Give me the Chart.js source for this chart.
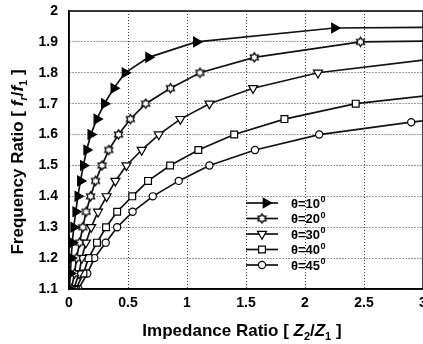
<!DOCTYPE html>
<html><head><meta charset="utf-8">
<script src="https://cdn.jsdelivr.net/npm/chart.js@4.4.1/dist/chart.umd.min.js"></script>
<style>html,body{margin:0;padding:0;background:#fff;overflow:hidden;}#wrap{width:423px;height:344px;}</style>
</head><body><div id="wrap"><canvas id="c" width="423" height="344"></canvas></div>
<script>
// ---- data ----
const seriesLabels = ['θ=10', 'θ=20', 'θ=30', 'θ=40', 'θ=45'];
const x10 = [0.003,0.012,0.018,0.028,0.04,0.057,0.075,0.097,0.122,0.15,0.185,0.236,0.30,0.38,0.475,0.675,1.08,2.25,3.5];
const y10 = [1.10,1.15,1.20,1.25,1.30,1.35,1.40,1.45,1.50,1.55,1.60,1.65,1.70,1.75,1.80,1.85,1.90,1.945,1.948];
const x20 = [0.02,0.047,0.064,0.09,0.117,0.145,0.183,0.225,0.28,0.337,0.42,0.52,0.65,0.86,1.11,1.57,2.47,3.6];
const y20 = [1.10,1.15,1.20,1.25,1.30,1.35,1.40,1.45,1.50,1.55,1.60,1.65,1.70,1.75,1.80,1.85,1.90,1.905];
const x30 = [0.04,0.085,0.108,0.143,0.188,0.246,0.319,0.393,0.487,0.616,0.761,0.944,1.19,1.56,2.11,3.3];
const y30 = [1.10,1.15,1.20,1.25,1.30,1.35,1.40,1.45,1.50,1.55,1.60,1.65,1.70,1.75,1.80,1.855];
const x40 = [0.058,0.122,0.165,0.237,0.314,0.408,0.536,0.67,0.857,1.096,1.40,1.826,2.43,3.6];
const y40 = [1.10,1.15,1.20,1.25,1.30,1.35,1.40,1.45,1.50,1.55,1.60,1.65,1.70,1.75];
const x45 = [0.08,0.155,0.215,0.311,0.408,0.539,0.71,0.93,1.19,1.576,2.12,2.9,3.2];
const y45 = [1.10,1.15,1.20,1.25,1.30,1.35,1.40,1.45,1.50,1.55,1.60,1.64,1.652];
const xTickValues = [0,0.5,1,1.5,2,2.5,3];
const yTickValues = [1.1,1.2,1.3,1.4,1.5,1.6,1.7,1.8,1.9,2.0];
const xTitleRuns = [{t:'Impedance Ratio [ '},{t:'Z',i:1},{t:'2',sub:1},{t:'/'},{t:'Z',i:1},{t:'1',sub:1},{t:' ]'}];
const yTitleRuns = [{t:'Frequency Ratio [ '},{t:'f',i:1},{t:'r',i:1,sub:1},{t:'/'},{t:'f',i:1},{t:'1',sub:1},{t:' ]'}];

const FAM = "'Liberation Sans', Arial, sans-serif";

function makeHexagram(r){
  const s = Math.ceil(r*2+3);
  const c = document.createElement('canvas'); c.width = s; c.height = s;
  const g = c.getContext('2d'); const cx = s/2, cy = s/2;
  g.beginPath();
  for (let k=0;k<12;k++){ const a = -Math.PI/2 + k*Math.PI/6; const rr = (k%2===0)? r : r/Math.sqrt(3)*1.05;
    g.lineTo(cx+rr*Math.cos(a), cy+rr*Math.sin(a)); }
  g.closePath(); g.fillStyle='#fff'; g.fill(); g.lineWidth=1.3; g.strokeStyle='#000'; g.stroke();
  return c;
}
const hexMark = makeHexagram(4.6);

const styles = [
  {pointStyle:'triangle', rot:90, r:5.5, bg:'#000'},
  {pointStyle:hexMark, rot:0, r:4.5, bg:'#fff'},
  {pointStyle:'triangle', rot:180, r:5.2, bg:'#fff'},
  {pointStyle:'rect', rot:0, r:4.8, bg:'#fff'},
  {pointStyle:'circle', rot:0, r:3.6, bg:'#fff'}
];
const xs = [x10,x20,x30,x40,x45], ys = [y10,y20,y30,y40,y45];

const datasets = seriesLabels.map((lab, k) => ({
  label: lab,
  data: xs[k].map((x,i)=>({x:x, y:ys[k][i]})),
  borderColor:'#111', borderWidth:1.7, tension:0, fill:false,
  pointStyle: styles[k].pointStyle, pointRadius: styles[k].r, pointRotation: styles[k].rot,
  pointBackgroundColor: styles[k].bg, pointBorderColor:'#000', pointBorderWidth:1.2
}));

function runFont(run, size){ return (run.i?'italic ':'')+'bold '+(run.sub? Math.round(size*0.65) : size)+'px '+FAM; }
function drawRuns(ctx, runs, size, cx, baseY){
  let w = 0;
  runs.forEach(r => { ctx.font = runFont(r,size); w += ctx.measureText(r.t).width; });
  let x = cx - w/2;
  ctx.textBaseline = 'alphabetic'; ctx.textAlign = 'left'; ctx.fillStyle = '#000';
  runs.forEach(r => { ctx.font = runFont(r,size); ctx.fillText(r.t, x, baseY + (r.sub? size*0.22 : 0)); x += ctx.measureText(r.t).width; });
}

function drawMarker(ctx, st, x, y){
  ctx.save();
  ctx.fillStyle = st.bg; ctx.strokeStyle = '#000'; ctx.lineWidth = 1.2;
  if (typeof st.pointStyle !== 'string'){ ctx.drawImage(st.pointStyle, x - st.pointStyle.width/2, y - st.pointStyle.height/2); ctx.restore(); return; }
  ctx.beginPath();
  const r = st.r, rad = st.rot*Math.PI/180;
  if (st.pointStyle === 'circle'){ ctx.arc(x,y,r,0,Math.PI*2); }
  else if (st.pointStyle === 'rect'){ const s = r*Math.SQRT1_2; ctx.rect(x-s,y-s,2*s,2*s); }
  else { for (let j=0;j<3;j++){ const a = rad + j*2*Math.PI/3; const px = x+Math.sin(a)*r, py = y-Math.cos(a)*r; j? ctx.lineTo(px,py) : ctx.moveTo(px,py);} ctx.closePath(); }
  ctx.fill(); ctx.stroke(); ctx.restore();
}

const decorPlugin = {
  id:'decor',
  afterDraw(chart){
    const ctx = chart.ctx, a = chart.chartArea;
    ctx.save();
    // frame
    ctx.strokeStyle = '#000'; ctx.lineWidth = 1.5;
    ctx.strokeRect(a.left, a.top, a.right - a.left, a.bottom - a.top);
    // axis titles
    drawRuns(ctx, xTitleRuns, 17, (a.left + a.right)/2 - 4, 336);
    ctx.save(); ctx.translate(23, (a.top + a.bottom)/2 + 12); ctx.rotate(-Math.PI/2);
    drawRuns(ctx, yTitleRuns, 17, 0, 0); ctx.restore();
    // legend
    const lx1 = a.left + 177, lx2 = a.left + 209, tx = a.left + 222;
    chart.data.datasets.forEach((ds, k) => {
      const y = a.bottom - 86 + k*15.5;
      ctx.strokeStyle = '#111'; ctx.lineWidth = 1.7;
      ctx.beginPath(); ctx.moveTo(lx1, y); ctx.lineTo(lx2, y); ctx.stroke();
      drawMarker(ctx, styles[k], k===0 ? (lx1+lx2)/2 + 4 : (lx1+lx2)/2, y);
      ctx.fillStyle = '#000'; ctx.textBaseline = 'middle'; ctx.textAlign = 'left';
      ctx.font = 'bold 13px ' + FAM;
      ctx.fillText(ds.label, tx, y + 1);
      const w = ctx.measureText(ds.label).width;
      ctx.font = 'bold 9px ' + FAM;
      ctx.fillText('0', tx + w + 0.5, y - 3);
    });
    ctx.restore();
  }
};

new Chart(document.getElementById('c'), {
  type:'line',
  data:{datasets},
  options:{
    responsive:false, animation:false, events:[], devicePixelRatio:1,
    layout:{autoPadding:false, padding:{top:11,left:0,right:0,bottom:0}},
    plugins:{legend:{display:false}, tooltip:{enabled:false}},
    scales:{
      x:{type:'linear', min:0, max:3,
        afterBuildTicks(s){ s.ticks = xTickValues.map(v=>({value:v})); },
        afterFit(s){ s.height = 55; s.paddingLeft = 0; s.paddingRight = 0; },
        ticks:{padding:6, autoSkip:false, maxRotation:0, color:'#000', font:{family:FAM, size:14, weight:'bold'},
          callback:v => String(+v.toFixed(1))},
        grid:{color:'#3a3a3a', lineWidth:1, drawTicks:false},
        border:{display:true, color:'#000', width:1.5, dash:[1,2]}
      },
      y:{type:'linear', min:1.1, max:2.0,
        afterBuildTicks(s){ s.ticks = yTickValues.map(v=>({value:v})); },
        afterFit(s){ s.width = 69; s.paddingTop = 0; s.paddingBottom = 0; },
        ticks:{padding:11, autoSkip:false, color:'#000', font:{family:FAM, size:14, weight:'bold'},
          callback:v => String(+v.toFixed(1))},
        grid:{color:'#3a3a3a', lineWidth:1, drawTicks:false},
        border:{display:true, color:'#000', width:1.5, dash:[1,2]}
      }
    }
  },
  plugins:[decorPlugin]
});
</script>
</body></html>
